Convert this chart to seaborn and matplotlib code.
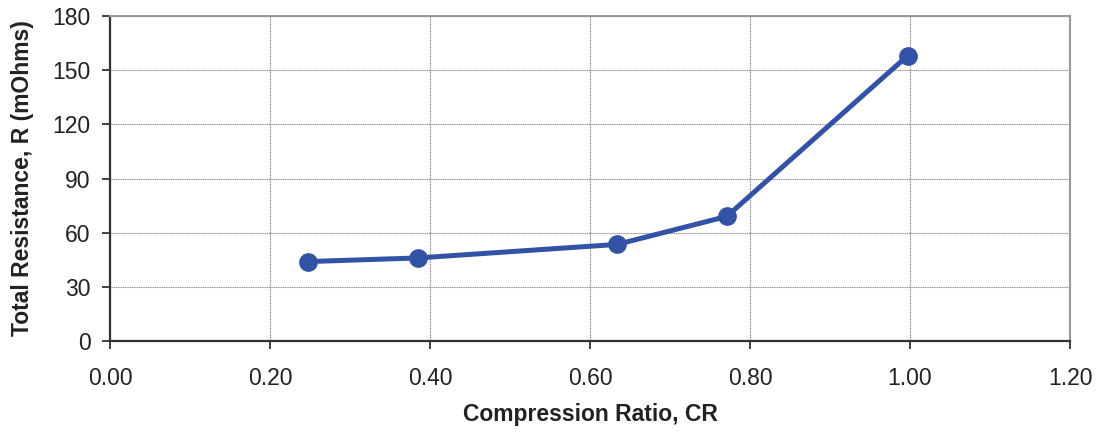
import matplotlib
matplotlib.use("Agg")
import matplotlib.pyplot as plt
import seaborn as sns
import pandas as pd

compression_ratio = [0.248, 0.385, 0.634, 0.771, 0.997]
resistance = [44, 46, 53.5, 69, 158]
x_ticks = [0.0, 0.2, 0.4, 0.6, 0.8, 1.0, 1.2]
y_ticks = [0, 30, 60, 90, 120, 150, 180]

sns.set_style("white")
plt.rcParams['font.family'] = ['Liberation Sans', 'DejaVu Sans']

df = pd.DataFrame({"CR": compression_ratio, "R": resistance})

fig = plt.figure(figsize=(10.97, 4.33), dpi=100)
ax = fig.add_axes([110/1097, 1 - 341/433, 960/1097, 325/433])

sns.lineplot(data=df, x="CR", y="R", ax=ax, color="#3252a6", linewidth=3.6,
             marker="o", markersize=13.5, markeredgewidth=0, markeredgecolor="#3252a6")

ax.set_xlim(0, 1.2)
ax.set_ylim(0, 180)
ax.set_xticks(x_ticks)
ax.set_xticklabels([f"{v:.2f}" for v in x_ticks])
ax.set_yticks(y_ticks)
ax.grid(True, color="#8a8a8a", linestyle=(0, (1, 0.6)), linewidth=0.8)
for s in ["top", "right"]:
    ax.spines[s].set_color("#999999")
    ax.spines[s].set_linewidth(1.5)
for s in ["left", "bottom"]:
    ax.spines[s].set_color("#333333")
    ax.spines[s].set_linewidth(1.6)
ax.tick_params(axis="both", which="major", direction="out", length=6, width=1.3,
               color="#333333", labelsize=16.5, labelcolor="#222222", left=True, bottom=True)
ax.tick_params(axis="x", pad=13)
ax.tick_params(axis="y", pad=8)
ax.set_xlabel("Compression Ratio, CR", fontsize=16.5, fontweight="bold", color="#222222", labelpad=9)
ax.set_ylabel("Total Resistance, R (mOhms)", fontsize=16.5, fontweight="bold", color="#222222", labelpad=13)

fig.savefig("out.png", dpi=100)
